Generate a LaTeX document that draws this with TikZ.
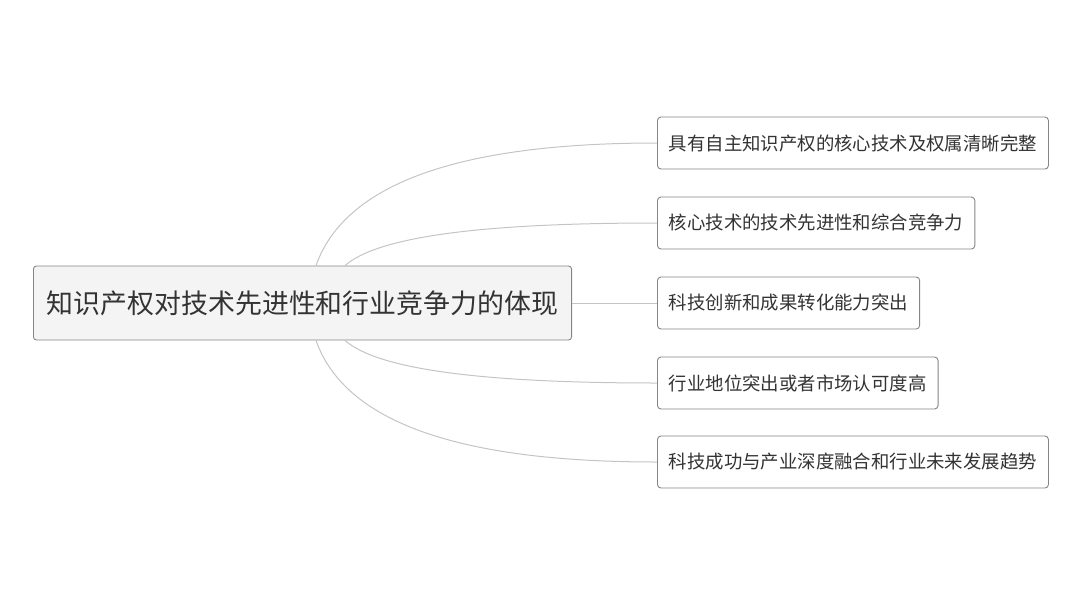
\documentclass[tikz,border=0pt]{standalone}
\usepackage{fontspec}
\newfontfamily\cjk{Noto Sans CJK SC}
\definecolor{txt}{HTML}{333333}
\definecolor{edge}{HTML}{C4C4C4}
\definecolor{bord}{HTML}{858585}
\definecolor{rootfill}{HTML}{F4F4F4}
\begin{document}
\begin{tikzpicture}[x=1pt,y=-1pt,
  rootbox/.style={draw=bord,fill=rootfill,rounded corners=3pt,line width=0.9pt,
    anchor=west,inner xsep=13.5pt,inner ysep=0pt,minimum height=74pt,
    font=\cjk\fontsize{26.9}{31}\selectfont,text=txt},
  leafbox/.style={draw=bord,fill=white,rounded corners=3.5pt,line width=0.9pt,
    anchor=west,inner xsep=11.5pt,inner ysep=0pt,minimum height=52pt,
    font=\cjk\fontsize{18.4}{22}\selectfont,text=txt},
  link/.style={draw=edge,line width=1pt}]
\useasboundingbox (0,0) rectangle (1080,606);
\node[rootbox] (root) at (33,303) {知识产权对技术先进性和行业竞争力的体现};
\node[leafbox] (c1) at (657,143) {具有自主知识产权的核心技术及权属清晰完整};
\node[leafbox] (c2) at (657,223) {核心技术的技术先进性和综合竞争力};
\node[leafbox] (c3) at (657,303) {科技创新和成果转化能力突出};
\node[leafbox] (c4) at (657,383) {行业地位突出或者市场认可度高};
\node[leafbox] (c5) at (657,462) {科技成功与产业深度融合和行业未来发展趋势};
\draw[link] ([xshift=283pt]root.north west) .. controls +(29,-82) and +(-198,0) .. (c1.west);
\draw[link] ([xshift=312pt]root.north west) .. controls +(33,-29) and +(-175,0) .. (c2.west);
\draw[link] (root.east) -- (c3.west);
\draw[link] ([xshift=312pt]root.south west) .. controls +(33,29) and +(-175,0) .. (c4.west);
\draw[link] ([xshift=283pt]root.south west) .. controls +(29,82) and +(-198,0) .. (c5.west);
\end{tikzpicture}
\end{document}
